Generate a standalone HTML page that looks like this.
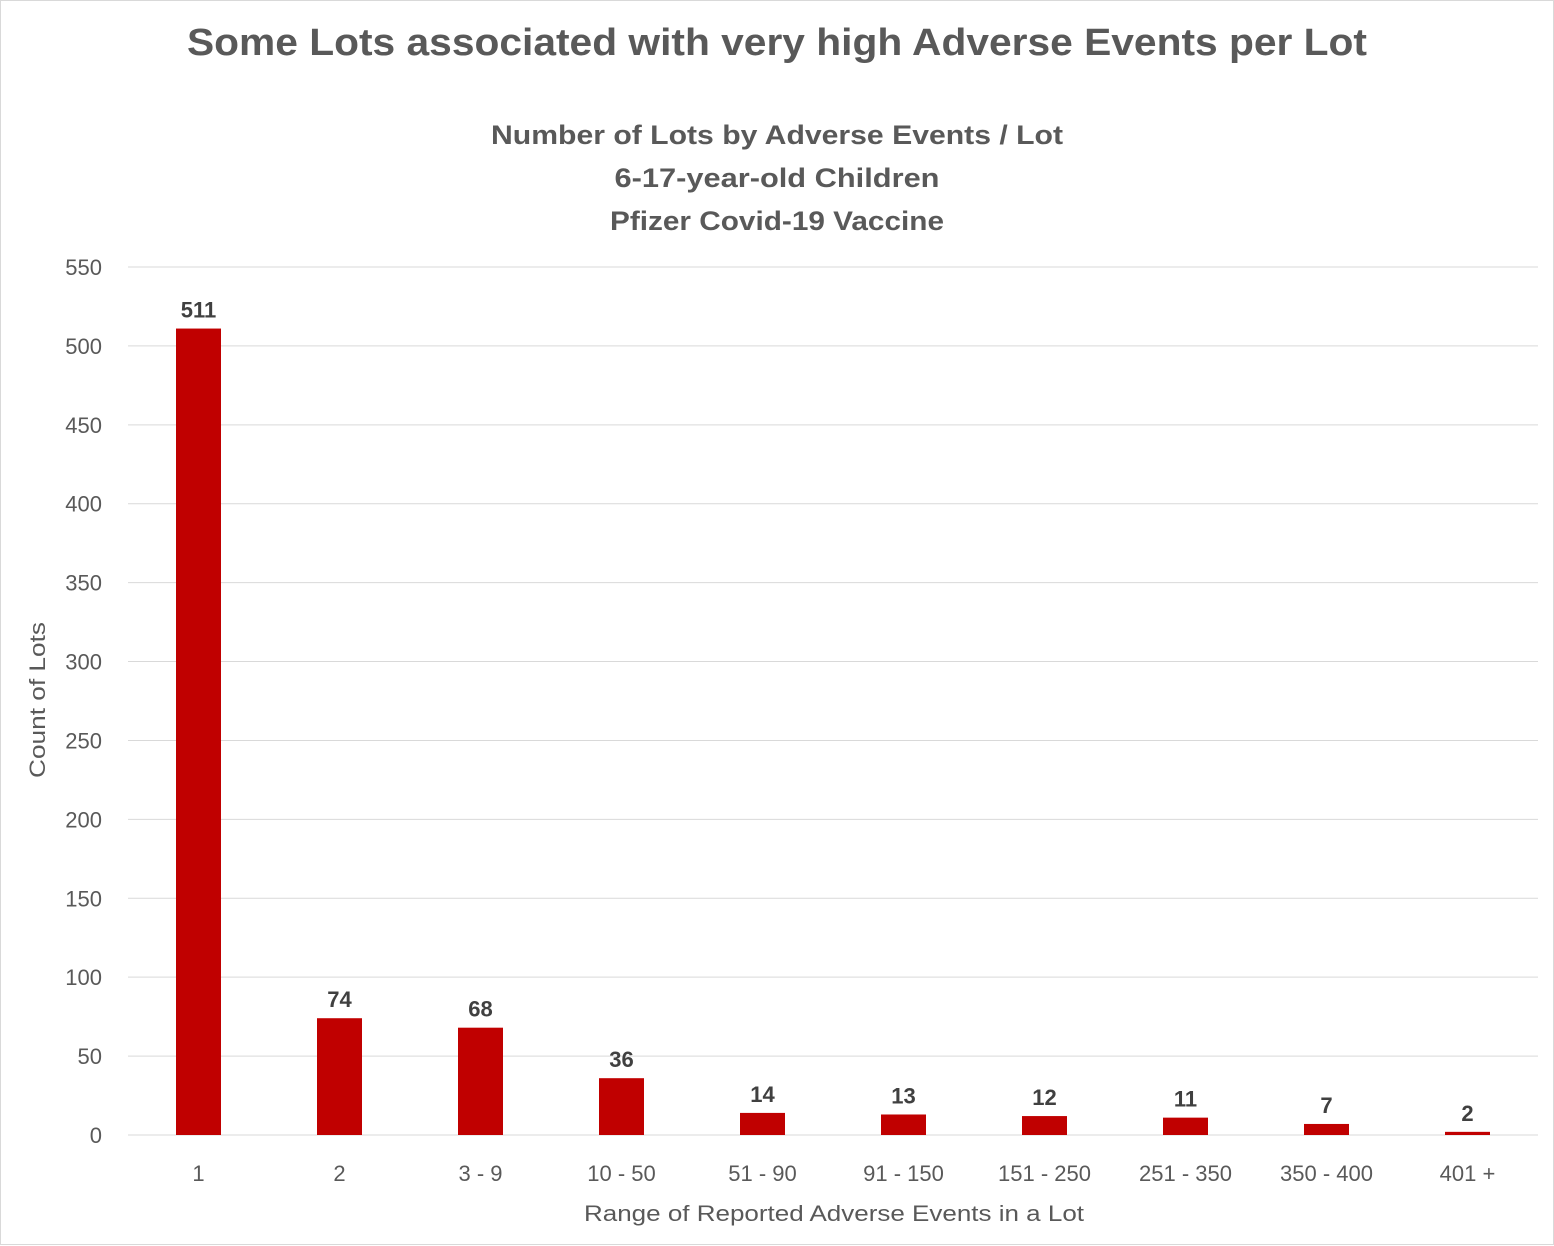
<!DOCTYPE html>
<html><head><meta charset="utf-8"><style>
body{margin:0;background:#fff}
svg{display:block}
text{font-family:"Liberation Sans",sans-serif}
</style></head><body>
<svg id="chart" width="1554" height="1246" viewBox="0 0 1554 1246" xmlns="http://www.w3.org/2000/svg">
<rect x="0.5" y="0.5" width="1553" height="1244" fill="#fff" stroke="#d9d9d9"/>
<text x="777" y="55" text-anchor="middle" font-size="38" font-weight="bold" fill="#595959" textLength="1180" lengthAdjust="spacingAndGlyphs">Some Lots associated with very high Adverse Events per Lot</text>
<text x="777" y="144" text-anchor="middle" font-size="27" font-weight="bold" fill="#595959" textLength="572" lengthAdjust="spacingAndGlyphs">Number of Lots by Adverse Events / Lot</text>
<text x="777" y="187" text-anchor="middle" font-size="27" font-weight="bold" fill="#595959" textLength="325" lengthAdjust="spacingAndGlyphs">6-17-year-old Children</text>
<text x="777" y="230" text-anchor="middle" font-size="27" font-weight="bold" fill="#595959" textLength="334" lengthAdjust="spacingAndGlyphs">Pfizer Covid-19 Vaccine</text>
<g id="grid"></g>
<g id="bars"></g>
<text transform="translate(45,700) rotate(-90)" text-anchor="middle" font-size="22" fill="#595959" textLength="156" lengthAdjust="spacingAndGlyphs">Count of Lots</text>
<text x="834" y="1221" text-anchor="middle" font-size="22" fill="#595959" textLength="500" lengthAdjust="spacingAndGlyphs">Range of Reported Adverse Events in a Lot</text>
</svg>
<script>
const categories=["1","2","3 - 9","10 - 50","51 - 90","91 - 150","151 - 250","251 - 350","350 - 400","401 +"];
const values=[511,74,68,36,14,13,12,11,7,2];
const yTicks=[0,50,100,150,200,250,300,350,400,450,500,550];
{
const NS="http://www.w3.org/2000/svg";
const pLeft=128,pRight=1538,pTop=267,pBottom=1135,yMax=550;
const y=v=>pBottom-(v/yMax)*(pBottom-pTop);
const band=(pRight-pLeft)/categories.length;
const x=i=>pLeft+band*(i+0.5);
const grid=document.getElementById('grid'),bars=document.getElementById('bars');
function mk(tag,attrs,parent){const e=document.createElementNS(NS,tag);for(const k in attrs)e.setAttribute(k,attrs[k]);parent.appendChild(e);return e;}
yTicks.forEach(t=>{
  const l=mk('line',{x1:pLeft,x2:pRight,y1:y(t),y2:y(t),stroke:'#d9d9d9','stroke-width':1},grid);
  
  
  const tx=mk('text',{x:102,y:y(t)+8,'text-anchor':'end','font-size':22,fill:'#595959'},grid);
  tx.textContent=t;
  
  
});
categories.forEach((c,i)=>{
  const bw=45;
  const r=mk('rect',{x:x(i)-bw/2,y:y(values[i]),width:bw,height:pBottom-y(values[i]),fill:'#c00000'},bars);
  
  
  const lb=mk('text',{x:x(i),y:y(values[i])-11,'text-anchor':'middle','font-size':22,'font-weight':'bold',fill:'#404040'},bars);
  lb.textContent=values[i];
  
  
  const xl=mk('text',{x:x(i),y:1181,'text-anchor':'middle','font-size':22,fill:'#595959'},bars);
  xl.textContent=c;
  
  
});
}
</script>
</body></html>
